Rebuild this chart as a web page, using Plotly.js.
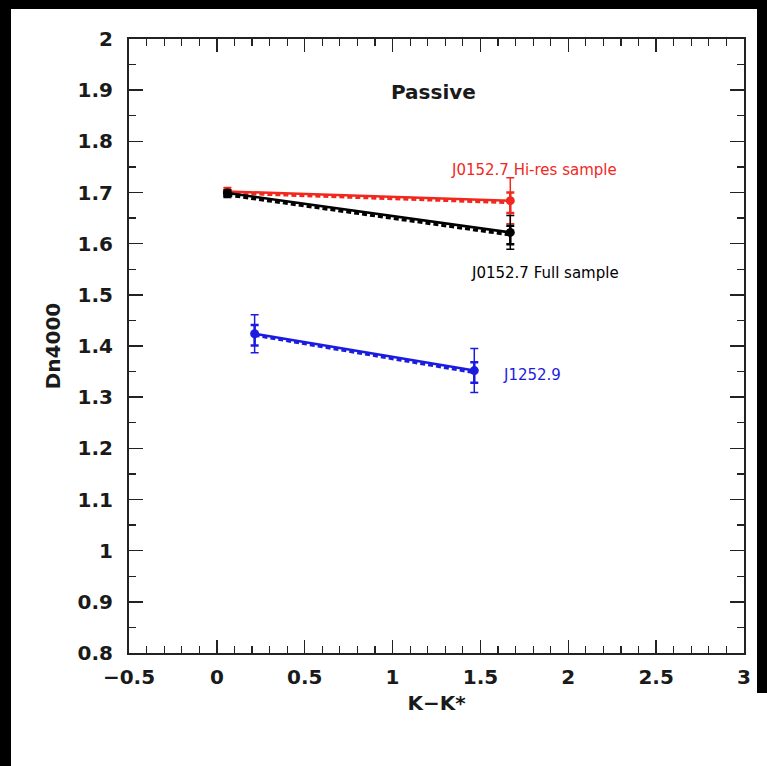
<!DOCTYPE html>
<html>
<head>
<meta charset="utf-8">
<script src="https://cdn.plot.ly/plotly-3.0.1.min.js"></script>
<style>
html,body{margin:0;padding:0;background:#fff;}
#chart{width:767px;height:766px;}
</style>
</head>
<body>
<div id="chart"></div>
<script>
// Series names
const seriesNames = ['J0152.7 Hi-res sample', 'J0152.7 Full sample', 'J1252.9'];
const seriesColors = ['#f0281e', '#000000', '#1c1ce0'];

// K-K* positions
const xHires = [0.06, 1.67];
const xFull = [0.06, 1.67];
const xJ1252 = [0.215, 1.465];

// Dn4000 (solid line values and outer errors)
const yHires = [1.702, 1.684];
const eHires = [0.008, 0.045];
const yFull = [1.699, 1.622];
const eFull = [0.006, 0.033];
const yJ1252 = [1.424, 1.352];
const eJ1252 = [0.037, 0.043];

// Dn4000 (dashed line values and inner errors)
const yHiresD = [1.699, 1.680];
const eHiresD = [0.005, 0.02];
const yFullD = [1.695, 1.617];
const eFullD = [0.004, 0.018];
const yJ1252D = [1.421, 1.348];
const eJ1252D = [0.02, 0.02];

// Axis ticks
const xTicks = [-0.5, 0, 0.5, 1, 1.5, 2, 2.5, 3];
const yTicks = [0.8, 0.9, 1, 1.1, 1.2, 1.3, 1.4, 1.5, 1.6, 1.7, 1.8, 1.9, 2];

const xs = [xHires, xFull, xJ1252];
const ys = [yHires, yFull, yJ1252];
const es = [eHires, eFull, eJ1252];
const ysD = [yHiresD, yFullD, yJ1252D];
const esD = [eHiresD, eFullD, eJ1252D];

const traces = [];
for (let i = 0; i < 3; i++) {
  traces.push({
    x: xs[i], y: ys[i], type: 'scatter', mode: 'lines+markers', name: seriesNames[i],
    line: {color: seriesColors[i], width: 2.5},
    marker: {color: seriesColors[i], size: 9},
    error_y: {type: 'data', array: es[i], visible: true, color: seriesColors[i], thickness: 1.5, width: 4},
    showlegend: false, hoverinfo: 'x+y+name'
  });
  traces.push({
    x: xs[i], y: ysD[i], type: 'scatter', mode: 'lines', name: seriesNames[i] + ' (dashed)',
    line: {color: seriesColors[i], width: 3, dash: '5px,3px'},
    error_y: {type: 'data', array: esD[i], visible: true, color: seriesColors[i], thickness: 2.5, width: 4},
    showlegend: false, hoverinfo: 'x+y+name'
  });
}

const boldFam = 'DejaVu Sans, Arial, sans-serif';
const tickFont = {family: boldFam, size: 20, color: '#1a1a1a', weight: 'bold'};

const layout = {
  width: 767, height: 766,
  margin: {l: 129, r: 23, t: 39, b: 113, pad: 0},
  paper_bgcolor: '#ffffff', plot_bgcolor: '#ffffff',
  showlegend: false,
  xaxis: {
    range: [-0.5, 3], tickvals: xTicks, ticks: 'inside', ticklen: 13, tickwidth: 1.5, tickcolor: '#222',
    minor: {dtick: 0.1, ticks: 'inside', ticklen: 7, tickwidth: 1.2, tickcolor: '#222', showgrid: false},
    showline: true, linecolor: '#222', linewidth: 2, mirror: 'allticks',
    showgrid: false, zeroline: false, tickfont: tickFont, ticklabelstandoff: 5,
    title: {text: 'K−K*', font: {family: boldFam, size: 20, color: '#1a1a1a', weight: 'bold'}, standoff: 8}
  },
  yaxis: {
    range: [0.8, 2], tickvals: yTicks, ticks: 'inside', ticklen: 14, tickwidth: 1.5, tickcolor: '#222',
    minor: {dtick: 0.05, ticks: 'inside', ticklen: 7, tickwidth: 1.2, tickcolor: '#222', showgrid: false},
    showline: true, linecolor: '#222', linewidth: 2, mirror: 'allticks',
    showgrid: false, zeroline: false, tickfont: tickFont, ticklabelstandoff: 10,
    title: {text: 'Dn4000', font: {family: boldFam, size: 20, color: '#1a1a1a', weight: 'bold'}, standoff: 12}
  },
  annotations: [
    {x: 1.234, y: 1.896, xref: 'x', yref: 'y', text: 'Passive', showarrow: false,
     font: {family: boldFam, size: 20, color: '#1a1a1a', weight: 'bold'}},
    {x: 1.32, y: 1.744, xref: 'x', yref: 'y', xanchor: 'left', text: seriesNames[0], showarrow: false,
     font: {family: 'DejaVu Sans, Arial, sans-serif', size: 15, color: seriesColors[0]}},
    {x: 1.434, y: 1.543, xref: 'x', yref: 'y', xanchor: 'left', text: seriesNames[1], showarrow: false,
     font: {family: 'DejaVu Sans, Arial, sans-serif', size: 15, color: seriesColors[1]}},
    {x: 1.616, y: 1.343, xref: 'x', yref: 'y', xanchor: 'left', text: seriesNames[2], showarrow: false,
     font: {family: 'DejaVu Sans, Arial, sans-serif', size: 15, color: seriesColors[2]}}
  ],
  shapes: [
    {type: 'rect', xref: 'paper', yref: 'paper', x0: -129/615, x1: -118/615, y0: -113/614, y1: 1 + 39/614, fillcolor: '#000', line: {width: 0}, layer: 'below'},
    {type: 'rect', xref: 'paper', yref: 'paper', x0: -129/615, x1: 1 + 23/615, y0: 1 + 30/614, y1: 1 + 39/614, fillcolor: '#000', line: {width: 0}, layer: 'below'},
    {type: 'rect', xref: 'paper', yref: 'paper', x0: 1 + 13/615, x1: 1 + 23/615, y0: -40/614, y1: 1 + 39/614, fillcolor: '#000', line: {width: 0}, layer: 'below'}
  ]
};

Plotly.newPlot('chart', traces, layout, {displayModeBar: false, staticPlot: true});
</script>
</body>
</html>
